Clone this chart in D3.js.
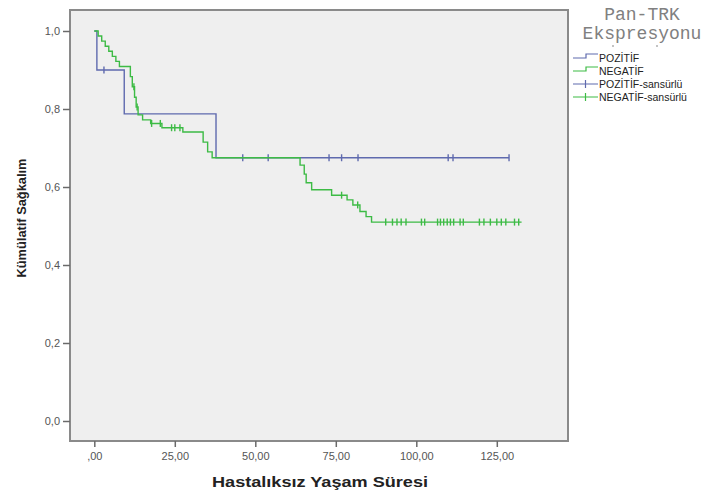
<!DOCTYPE html>
<html>
<head>
<meta charset="utf-8">
<script src="https://cdn.jsdelivr.net/npm/d3@7"></script>
<style>
  body { margin: 0; background: #fff; }
  svg { display: block; }
</style>
</head>
<body>
<svg id="chart" width="712" height="492"></svg>
<script>
// Kaplan-Meier step data
const pozitifTimes = [0, 0.8, 9.3, 37.8, 128.8];
const pozitifSurv = [1.0, 0.9, 0.7875, 0.675, 0.675];
const pozitifCensor = [3, 46.1, 54, 72.9, 76.8, 81.9, 109.9, 111.4, 128.8];

const negatifTimes = [0, 1.2, 2.3, 3.4, 4.5, 5.6, 6.7, 7.8, 11.2, 11.8, 12.5, 13.0, 13.6, 15, 17.5, 21, 27.5,
    33.8, 35.2, 36.6, 63.9, 65.2, 65.8, 67.5, 73.7, 78.5, 80.3, 82.5, 84.4, 86.1, 132.7];
const negatifSurv = [1.0, 0.987, 0.974, 0.961, 0.948, 0.935, 0.922, 0.909, 0.883, 0.857, 0.83, 0.805, 0.785, 0.772, 0.763, 0.752, 0.741,
    0.715, 0.69, 0.675, 0.656, 0.633, 0.611, 0.593, 0.579, 0.567, 0.554, 0.537, 0.524, 0.51, 0.51];
const negatifCensor = [12.3, 13.3, 17.8, 20.5, 24, 25, 26.6, 76.8, 81.8,
    90.5, 92.6, 94, 95.3, 96.8, 101.6, 102.6, 106.6, 107.5, 108.5, 109.6, 110.6, 111.6, 113.6, 114.6,
    119.6, 121, 123, 125, 126.4, 127.8, 130.5, 131.8];

const xTicks = [0, 25, 50, 75, 100, 125];
const yTicks = [0, 0.2, 0.4, 0.6, 0.8, 1.0];

const legendTitle = ['Pan-TRK', 'Ekspresyonu'];
const legendItems = ['POZİTİF', 'NEGATİF', 'POZİTİF-sansürlü', 'NEGATİF-sansürlü'];

const blue = '#5f6aae';
const green = '#3dbb45';
const sans = 'Arial, "Liberation Sans", sans-serif';

const svg = d3.select('#chart');
const frame = {left: 70, top: 10, right: 568, bottom: 441};

const x = d3.scaleLinear().domain([0, 125]).range([94.3, 496.8]);
const y = d3.scaleLinear().domain([0, 1]).range([421, 31]);

// plot background + frame
svg.append('rect')
    .attr('x', frame.left).attr('y', frame.top)
    .attr('width', frame.right - frame.left).attr('height', frame.bottom - frame.top)
    .attr('fill', '#efefef').attr('stroke', '#8a8a8a').attr('stroke-width', 2);

// axes
const fmt = (d) => d === 0 ? ',00' : d.toFixed(2).replace('.', ',');
const xAxis = svg.append('g').attr('transform', `translate(0,${frame.bottom})`)
    .call(d3.axisBottom(x).tickValues(xTicks).tickFormat(fmt).tickSize(6).tickPadding(5));
const yAxis = svg.append('g').attr('transform', `translate(${frame.left},0)`)
    .call(d3.axisLeft(y).tickValues(yTicks).tickFormat((d) => d.toFixed(1).replace('.', ',')).tickSize(7).tickPadding(3));
[xAxis, yAxis].forEach((g) => {
    g.select('.domain').remove();
    g.selectAll('line').attr('stroke', '#6a6a6a').attr('stroke-width', 1.5);
    g.selectAll('text').attr('fill', '#555').attr('font-family', sans).attr('font-size', 11);
});

// survival curves
const line = d3.line().x((d) => x(d[0])).y((d) => y(d[1])).curve(d3.curveStepAfter);
const survAt = (times, surv, t) => {
    let v = surv[0];
    times.forEach((tt, i) => { if (tt <= t) v = surv[i]; });
    return v;
};

const drawCurve = (times, surv, censor, color) => {
    const pts = times.map((t, i) => [t, surv[i]]);
    svg.append('path').datum(pts)
        .attr('d', line).attr('fill', 'none')
        .attr('stroke', color).attr('stroke-width', 1.4);
    svg.append('g').selectAll('line').data(censor).join('line')
        .attr('x1', (d) => x(d)).attr('x2', (d) => x(d))
        .attr('y1', (d) => y(survAt(times, surv, d)) - 3.5)
        .attr('y2', (d) => y(survAt(times, surv, d)) + 3.5)
        .attr('stroke', color).attr('stroke-width', 1.4);
};
drawCurve(pozitifTimes, pozitifSurv, pozitifCensor, blue);
drawCurve(negatifTimes, negatifSurv, negatifCensor, green);

// axis titles
svg.append('text')
    .attr('x', 320).attr('y', 487).attr('text-anchor', 'middle')
    .attr('font-family', sans).attr('font-weight', 'bold')
    .attr('font-size', 15).attr('fill', '#222')
    .attr('textLength', 216).attr('lengthAdjust', 'spacingAndGlyphs')
    .text('Hastalıksız Yaşam Süresi');
svg.append('text')
    .attr('transform', 'translate(26,218) rotate(-90)').attr('text-anchor', 'middle')
    .attr('font-family', sans).attr('font-weight', 'bold')
    .attr('font-size', 13).attr('fill', '#222')
    .attr('textLength', 119).attr('lengthAdjust', 'spacingAndGlyphs')
    .text('Kümülatif Sağkalım');

// legend
const legend = svg.append('g');
legend.selectAll('text.title').data(legendTitle).join('text').classed('title', true)
    .attr('x', 642).attr('y', (d, i) => 20 + i * 19).attr('text-anchor', 'middle')
    .attr('font-family', '"Liberation Mono", "DejaVu Sans Mono", monospace')
    .attr('font-size', 18).attr('fill', '#808080')
    .text((d) => d);
legend.selectAll('circle').data([613, 657]).join('circle')
    .attr('cx', (d) => d).attr('cy', 46).attr('r', 0.8).attr('fill', '#777');

const rowY = (i) => 58 + i * 13;
const rows = legend.selectAll('g.row').data(legendItems).join('g').classed('row', true)
    .attr('transform', (d, i) => `translate(0,${rowY(i)})`);
rows.append('text')
    .attr('x', 599).attr('y', 4)
    .attr('font-family', sans).attr('font-size', 10.5)
    .attr('fill', '#222')
    .text((d) => d);
rows.each(function (d, i) {
    const g = d3.select(this);
    const color = i % 2 === 0 ? blue : green;
    if (i < 2) {
        g.append('path').attr('d', 'M573,0 H586 V-4 H598')
            .attr('fill', 'none').attr('stroke', color).attr('stroke-width', 1.2);
    } else {
        g.append('path').attr('d', 'M573,0 H598 M585.5,-4 V4')
            .attr('fill', 'none').attr('stroke', color).attr('stroke-width', 1.2);
    }
});
</script>
</body>
</html>
